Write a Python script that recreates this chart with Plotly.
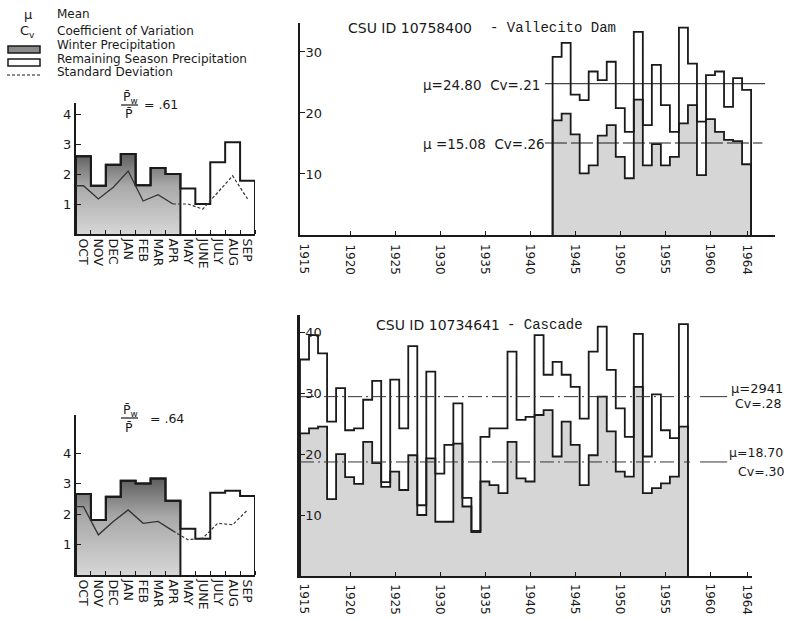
import plotly.graph_objects as go

# ---------------- data ----------------
months = ["OCT", "NOV", "DEC", "JAN", "FEB", "MAR", "APR", "MAY", "JUNE", "JULY", "AUG", "SEP"]
winter_month_count = 7  # OCT..APR

vallecito_monthly = [2.59, 1.61, 2.31, 2.67, 1.63, 2.20, 2.00, 1.52, 1.00, 2.39, 3.06, 1.78]
vallecito_monthly_sd = [1.61, 1.17, 1.56, 2.10, 1.10, 1.31, 1.00, 1.00, 0.83, 1.39, 1.94, 1.17]
vallecito_ratio = ".61"

cascade_monthly = [2.66, 1.81, 2.57, 3.10, 3.01, 3.17, 2.44, 1.52, 1.19, 2.70, 2.77, 2.60]
cascade_monthly_sd = [2.25, 1.32, 1.76, 2.14, 1.70, 1.76, 1.45, 1.16, 1.21, 1.70, 1.65, 2.14]
cascade_ratio = ".64"

vallecito_years = [1943, 1944, 1945, 1946, 1947, 1948, 1949, 1950, 1951, 1952, 1953,
                   1954, 1955, 1956, 1957, 1958, 1959, 1960, 1961, 1962, 1963, 1964]
vallecito_total = [29.2, 31.5, 23.0, 22.1, 26.8, 25.4, 28.4, 20.8, 16.9, 33.3, 18.0,
                   27.9, 21.3, 16.9, 34.0, 28.1, 9.8, 26.2, 26.8, 21.0, 25.7, 23.8]
vallecito_winter = [18.8, 19.9, 16.5, 10.1, 11.4, 16.3, 18.0, 12.8, 9.3, 22.2, 11.4,
                    14.9, 11.4, 12.8, 18.3, 21.3, 18.6, 19.0, 16.9, 15.6, 15.4, 11.6]
vallecito_stats = {"total": (24.80, ".21"), "winter": (15.08, ".26")}

cascade_years = [1915, 1916, 1917, 1918, 1919, 1920, 1921, 1922, 1923, 1924, 1925,
                 1926, 1927, 1928, 1929, 1930, 1931, 1932, 1933, 1934, 1935, 1936,
                 1937, 1938, 1939, 1940, 1941, 1942, 1943, 1944, 1945, 1946, 1947,
                 1948, 1949, 1950, 1951, 1952, 1953, 1954, 1955, 1956, 1957]
cascade_total = [35.5, 39.5, 36.5, 25.3, 30.8, 23.9, 24.2, 28.9, 32.0, 15.4, 32.2,
                 24.2, 37.7, 11.6, 33.5, 16.8, 21.5, 28.3, 12.8, 7.4, 22.8, 24.2,
                 24.2, 36.8, 25.6, 26.1, 39.5, 33.0, 35.1, 33.0, 31.0, 25.8, 36.8,
                 40.9, 33.8, 27.5, 22.8, 39.7, 19.6, 29.8, 23.9, 22.6, 41.3]
cascade_winter = [23.4, 24.2, 24.5, 12.6, 20.0, 16.2, 15.1, 22.0, 18.5, 14.6, 17.1,
                  14.1, 19.8, 10.0, 19.3, 8.9, 8.9, 21.7, 11.4, 7.2, 15.5, 14.9,
                  13.6, 22.0, 16.0, 15.5, 26.4, 27.2, 19.6, 25.3, 21.5, 14.9, 19.8,
                  29.4, 23.7, 17.1, 16.3, 31.0, 13.6, 14.4, 15.2, 16.3, 24.5]
cascade_stats = {"total": ("2941", ".28", 29.41), "winter": ("18.70", ".30", 18.70)}

year_ticks = [1915, 1920, 1925, 1930, 1935, 1940, 1945, 1950, 1955, 1960, 1964]

# ---------------- helpers ----------------
W, H = 787, 620
def px(x): return x / W
def py(y): return 1 - y / H

BLACK = "#1a1a1a"
LIGHT = "#d6d6d6"
DARK = "#9c9c9c"
FONT = "DejaVu Sans"
MONO = "Liberation Mono"

def step_xy(edges, vals):
    xs = [edges[0]] + edges[:-1] + [edges[-1], edges[-1]]
    ys = [0] + list(vals) + [vals[-1], 0]
    return xs, ys

fig = go.Figure()

def monthly(vals, sd, xa, ya):
    n = len(vals)
    edges = list(range(n + 1))
    wx, wy = step_xy(edges[:winter_month_count + 1], vals[:winter_month_count])
    fig.add_trace(go.Scatter(x=wx, y=wy, mode="lines", line=dict(color=BLACK, width=2, shape="hv"),
                             fill="tozeroy",
                             fillgradient=dict(type="vertical",
                                               colorscale=[[0, "#d6d6d6"], [0.6, "#a9a9a9"], [1, "#5e5e5e"]]),
                             xaxis=xa, yaxis=ya, hoverinfo="skip"))
    tx, ty = step_xy(edges, vals)
    fig.add_trace(go.Scatter(x=tx, y=ty, mode="lines", line=dict(color=BLACK, width=2, shape="hv"),
                             xaxis=xa, yaxis=ya, hoverinfo="skip"))
    centers = [i + 0.5 for i in range(n)]
    k = winter_month_count
    fig.add_trace(go.Scatter(x=[0] + centers[:k], y=[sd[0]] + sd[:k], mode="lines",
                             line=dict(color="#333333", width=1.3),
                             xaxis=xa, yaxis=ya, hoverinfo="skip"))
    fig.add_trace(go.Scatter(x=centers[k - 1:], y=sd[k - 1:], mode="lines",
                             line=dict(color="#333333", width=1.2, dash="3px,2px"),
                             xaxis=xa, yaxis=ya, hoverinfo="skip"))

def annual(years, total, winter, xa, ya):
    edges = [y - 0.55 for y in years] + [years[-1] + 0.45]
    fillv = [min(w, t) for w, t in zip(winter, total)]
    fx, fy = step_xy(edges, fillv)
    fig.add_trace(go.Scatter(x=fx, y=fy, mode="lines", line=dict(width=0, shape="hv"),
                             fill="tozeroy", fillcolor=LIGHT, xaxis=xa, yaxis=ya, hoverinfo="skip"))
    cx, hh, bb = [], [], []
    n = len(winter)
    for i in range(n):
        left = winter[i - 1] if i > 0 else 0
        right = winter[i + 1] if i < n - 1 else 0
        base = max(left, right)
        if fillv[i] > base:
            cx.append(years[i] - 0.05)
            hh.append(fillv[i] - base)
            bb.append(base)
    fig.add_trace(go.Bar(x=cx, y=hh, base=bb, width=1, marker=dict(color=DARK, line=dict(width=0)),
                         xaxis=xa, yaxis=ya, hoverinfo="skip"))
    wx, wy = step_xy(edges, winter)
    fig.add_trace(go.Scatter(x=wx, y=wy, mode="lines", line=dict(color=BLACK, width=1.8, shape="hv"),
                             xaxis=xa, yaxis=ya, hoverinfo="skip"))
    tx, ty = step_xy(edges, total)
    fig.add_trace(go.Scatter(x=tx, y=ty, mode="lines", line=dict(color=BLACK, width=1.8, shape="hv"),
                             xaxis=xa, yaxis=ya, hoverinfo="skip"))

monthly(vallecito_monthly, vallecito_monthly_sd, "x", "y")
annual(vallecito_years, vallecito_total, vallecito_winter, "x2", "y2")
monthly(cascade_monthly, cascade_monthly_sd, "x3", "y3")
annual(cascade_years, cascade_total, cascade_winter, "x4", "y4")

mu_t = vallecito_stats["total"][0]
mu_w = vallecito_stats["winter"][0]
fig.add_trace(go.Scatter(x=[1941.6, 1966.0], y=[mu_t, mu_t], mode="lines",
                         line=dict(color=BLACK, width=1), xaxis="x2", yaxis="y2", hoverinfo="skip"))
fig.add_trace(go.Scatter(x=[1941.6, 1965.7], y=[mu_w, mu_w], mode="lines",
                         line=dict(color=BLACK, width=1, dash="22px,4px"), xaxis="x2", yaxis="y2", hoverinfo="skip"))
for key in ("total", "winter"):
    m = cascade_stats[key][2]
    fig.add_trace(go.Scatter(x=[1914.45, 1957.7], y=[m, m], mode="lines",
                             line=dict(color="#333333", width=1, dash="14px,4px,2px,4px"),
                             xaxis="x4", yaxis="y4", hoverinfo="skip"))
    fig.add_trace(go.Scatter(x=[1958.8, 1961.8], y=[m, m], mode="lines",
                             line=dict(color="#333333", width=1),
                             xaxis="x4", yaxis="y4", hoverinfo="skip"))

# ---------------- axes ----------------
month_x = dict(range=[0, 12], tickmode="array", tickvals=[i + 0.5 for i in range(12)], ticktext=months,
               tickangle=90, ticks="", showline=True, linecolor=BLACK, linewidth=2, showgrid=False,
               zeroline=False, tickfont=dict(family=FONT, size=12.5, color=BLACK),
               minor=dict(tickmode="linear", tick0=0, dtick=1, ticks="inside", ticklen=4,
                          tickcolor=BLACK, tickwidth=1, showgrid=False))
year_x = dict(tickmode="array", tickvals=year_ticks, showticklabels=False,
              ticks="inside", ticklen=4, tickcolor=BLACK, showline=True, linecolor=BLACK,
              linewidth=2, showgrid=False, zeroline=False)

fig.update_layout(
    width=W, height=H, margin=dict(l=0, r=0, t=0, b=0), autosize=False,
    paper_bgcolor="white", plot_bgcolor="white", showlegend=False, barmode="overlay",
    xaxis=dict(domain=[px(76), px(255)], anchor="y", **month_x),
    yaxis=dict(domain=[py(234), py(103)], range=[0, 4.37], anchor="x", tickvals=[1, 2, 3, 4],
               ticks="inside", ticklen=5, tickcolor=BLACK, showline=True, linecolor=BLACK, linewidth=2,
               showgrid=False, zeroline=False, tickfont=dict(family=FONT, size=13, color=BLACK)),
    xaxis2=dict(domain=[px(300), px(775)], range=[1914.45, 1967.1], anchor="y2", **year_x),
    yaxis2=dict(domain=[py(235), py(23)], range=[0, 34.75], anchor="x2", tickvals=[10, 20, 30],
                ticks="inside", ticklen=5, tickcolor=BLACK, ticklabelposition="inside",
                showline=True, linecolor=BLACK, linewidth=2, showgrid=False, zeroline=False,
                tickfont=dict(family=FONT, size=13, color=BLACK)),
    xaxis3=dict(domain=[px(76), px(255)], anchor="y3", **month_x),
    yaxis3=dict(domain=[py(575), py(415)], range=[0, 5.26], anchor="x3", tickvals=[1, 2, 3, 4],
                ticks="inside", ticklen=5, tickcolor=BLACK, showline=True, linecolor=BLACK, linewidth=2,
                showgrid=False, zeroline=False, tickfont=dict(family=FONT, size=13, color=BLACK)),
    xaxis4=dict(domain=[px(300), px(752)], range=[1914.45, 1964.55], anchor="y4", **year_x),
    yaxis4=dict(domain=[py(576), py(315)], range=[0, 42.8], anchor="x4", tickvals=[10, 20, 30, 40],
                ticks="inside", ticklen=5, tickcolor=BLACK, ticklabelposition="inside",
                showline=True, linecolor=BLACK, linewidth=2.5, showgrid=False, zeroline=False,
                tickfont=dict(family=FONT, size=13, color=BLACK)),
)

# ---------------- text ----------------
ann = []
def text(x, y, s, size=12, family=FONT, anchor="left"):
    ann.append(dict(x=px(x), y=py(y), xref="paper", yref="paper", text=s, showarrow=False,
                    xanchor=anchor, yanchor="middle", font=dict(family=family, size=size, color=BLACK)))

# year tick labels (rotated, placed on the year axes' scale)
for xa, top in (("x2", 242), ("x4", 582)):
    for yv in year_ticks:
        ann.append(dict(x=yv, xref=xa, y=py(top), yref="paper", text=str(yv), textangle=90,
                        showarrow=False, xanchor="center", yanchor="top",
                        font=dict(family=FONT, size=12, color=BLACK)))

text(22, 14, "μ", 13)
text(55, 14, "Mean", 12)
text(18, 31, "C<sub>v</sub>", 13)
text(55, 31, "Coefficient of Variation", 12)
text(55, 45, "Winter Precipitation", 12)
text(55, 59, "Remaining Season Precipitation", 12)
text(55, 72, "Standard Deviation", 12)

shapes = [
    dict(type="rect", xref="paper", yref="paper", x0=px(8), x1=px(40), y0=py(53), y1=py(46),
         fillcolor="#8a8a8a", line=dict(color=BLACK, width=1.5)),
    dict(type="rect", xref="paper", yref="paper", x0=px(8), x1=px(40), y0=py(66), y1=py(59),
         fillcolor="white", line=dict(color=BLACK, width=1.5)),
    dict(type="line", xref="paper", yref="paper", x0=px(7), x1=px(40), y0=py(75), y1=py(75),
         line=dict(color=BLACK, width=1.2, dash="3px,2px")),
]

for (top, ratio) in ((97, vallecito_ratio), (410, cascade_ratio)):
    text(121, top, "P̄<sub>w</sub>", 12.5)
    shapes.append(dict(type="line", xref="paper", yref="paper", x0=px(121), x1=px(138),
                       y0=py(top + 8), y1=py(top + 8), line=dict(color=BLACK, width=1.2)))
    text(123, top + 17, "P̄", 12.5)
    text(142 if top < 200 else 148, top + 8, "= " + ratio, 12.5)

text(346, 28, "CSU ID 10758400", 14)
text(488, 28, "- Vallecito Dam", 14, MONO)
text(374, 325, "CSU ID 10734641", 14)
text(505, 325, "- Cascade", 14, MONO)

text(421, 85, "μ=%.2f  Cv=%s" % (vallecito_stats["total"][0], vallecito_stats["total"][1]), 13.5)
text(421, 144, "μ =%.2f  Cv=%s" % (vallecito_stats["winter"][0], vallecito_stats["winter"][1]), 13.5)
text(729, 388, "μ=" + cascade_stats["total"][0], 13)
text(733, 403, "Cv=" + cascade_stats["total"][1], 12.5)
text(727, 453, "μ=" + cascade_stats["winter"][0], 12.5)
text(736, 472, "Cv=" + cascade_stats["winter"][1], 12.5)

fig.update_layout(annotations=ann, shapes=shapes)
fig.write_html("out.html", config={"displayModeBar": False},
               post_script="document.body.style.margin='0';document.body.style.overflow='hidden';")
